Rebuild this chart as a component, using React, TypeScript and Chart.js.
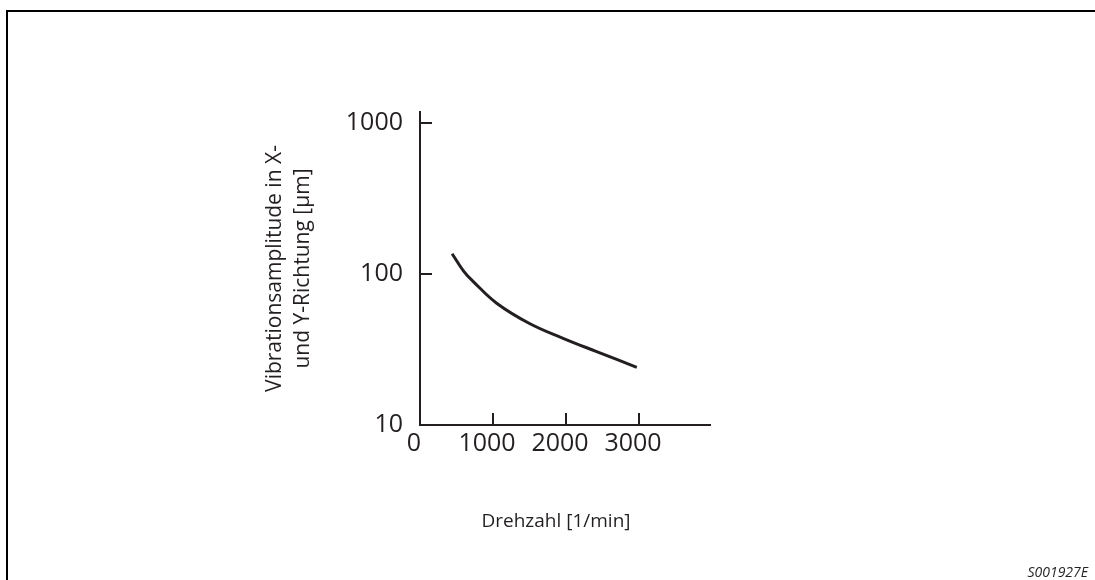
import React, { useEffect, useRef } from 'react';
import { Chart, registerables } from 'chart.js';

Chart.register(...registerables);

// Data
const speeds = [440, 600, 730, 1050, 1500, 1960, 2420, 2970];
const amplitudes = [136, 104, 89, 64, 47, 37.5, 30.6, 24.1];
const xTicks = [0, 1000, 2000, 3000];
const yTicks = [10, 100, 1000];
const yTitle = ['Vibrationsamplitude in X-', 'und Y-Richtung [µm]'];
const xTitle = 'Drehzahl [1/min]';
const figureCode = 'S001927E';

const INK = '#231f20';
const FONT = '"Open Sans", "Noto Sans", sans-serif';

const decorPlugin = {
  id: 'decor',
  afterDraw(chart: any) {
    const { ctx, scales } = chart;
    const x = scales.x;
    const y = scales.y;
    ctx.save();
    // inward tick marks
    ctx.strokeStyle = INK;
    ctx.lineWidth = 2;
    ctx.beginPath();
    for (const v of yTicks) {
      if (v === y.min) continue;
      const py = Math.round(y.getPixelForValue(v));
      ctx.moveTo(x.left, py);
      ctx.lineTo(x.left + 12, py);
    }
    for (const v of xTicks) {
      if (v === x.min) continue;
      const px = Math.round(x.getPixelForValue(v));
      ctx.moveTo(px, y.bottom);
      ctx.lineTo(px, y.bottom - 12);
    }
    ctx.stroke();
    // frame (top and left)
    ctx.strokeStyle = '#000';
    ctx.lineWidth = 2;
    ctx.beginPath();
    ctx.moveTo(7, chart.height);
    ctx.lineTo(7, 11);
    ctx.lineTo(chart.width, 11);
    ctx.stroke();
    // x title
    ctx.fillStyle = INK;
    ctx.font = `19px ${FONT}`;
    ctx.textAlign = 'center';
    ctx.textBaseline = 'middle';
    ctx.fillText(xTitle, (x.left + x.right) / 2 - 9, 522);
    // figure code
    ctx.font = `italic 14px ${FONT}`;
    ctx.textAlign = 'right';
    ctx.textBaseline = 'alphabetic';
    ctx.fillText(figureCode, chart.width - 7, 577);
    ctx.restore();
  },
};

export default function App() {
  const canvasRef = useRef<HTMLCanvasElement | null>(null);

  useEffect(() => {
    if (!canvasRef.current) return;
    const chart = new Chart(canvasRef.current, {
      type: 'line',
      data: {
        datasets: [
          {
            data: speeds.map((s, i) => ({ x: s, y: amplitudes[i] })),
            borderColor: INK,
            borderWidth: 3,
            pointRadius: 0,
            fill: false,
            tension: 0.4,
          },
        ],
      },
      options: {
        animation: false,
        responsive: true,
        maintainAspectRatio: false,
        layout: { padding: { left: 0, top: 112, right: 385, bottom: 0 } },
        plugins: {
          legend: { display: false },
          tooltip: { enabled: false },
        },
        scales: {
          x: {
            type: 'linear',
            min: 0,
            max: 3973,
            grid: { display: true, drawOnChartArea: false, drawTicks: false },
            border: { display: true, color: INK, width: 2 },
            ticks: {
              autoSkip: false,
              maxRotation: 0,
              padding: 4,
              labelOffset: -6,
              color: INK,
              font: { family: FONT, size: 25 },
              callback: (v: any) => String(v),
            },
            afterBuildTicks: (scale: any) => {
              scale.ticks = xTicks.map((v) => ({ value: v }));
            },
            afterFit: (scale: any) => {
              scale.height = 155;
            },
          },
          y: {
            type: 'logarithmic',
            min: 10,
            max: 1180,
            grid: { display: true, drawOnChartArea: false, drawTicks: false },
            border: { display: true, color: INK, width: 2 },
            ticks: {
              autoSkip: false,
              padding: 17,
              color: INK,
              font: { family: FONT, size: 25 },
              callback: (v: any) => String(v),
            },
            afterBuildTicks: (scale: any) => {
              scale.ticks = yTicks.map((v) => ({ value: v }));
            },
            afterFit: (scale: any) => {
              scale.width = 420;
            },
            title: {
              display: true,
              text: yTitle,
              color: INK,
              font: { family: FONT, size: 21, lineHeight: 1.333 },
              padding: { top: 261, bottom: 0 },
            },
          },
        },
      },
      plugins: [decorPlugin],
    });
    return () => chart.destroy();
  }, []);

  return (
    <div style={{ position: 'absolute', left: 0, top: 0, width: 1095, height: 580, background: '#fff' }}>
      <canvas ref={canvasRef} />
    </div>
  );
}
